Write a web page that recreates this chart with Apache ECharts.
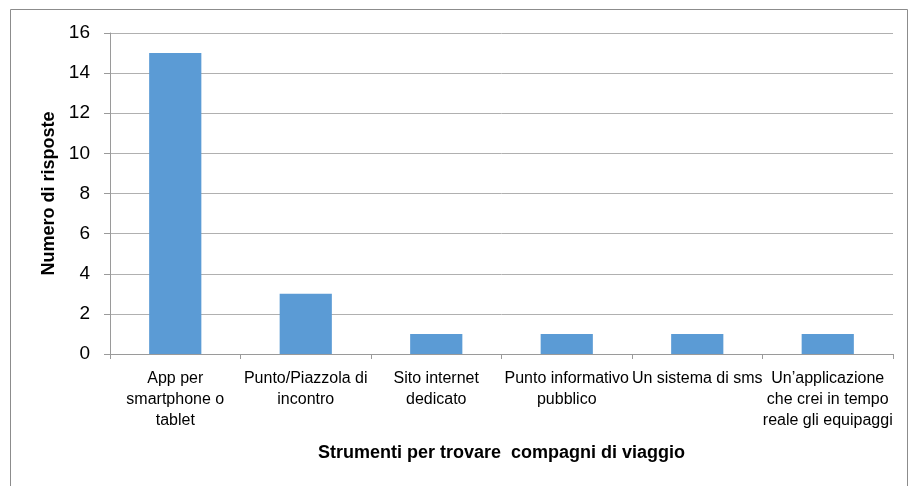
<!DOCTYPE html>
<html>
<head>
<meta charset="utf-8">
<script src="https://cdn.jsdelivr.net/npm/echarts@6/dist/echarts.min.js"></script>
<style>
  html, body { margin: 0; padding: 0; background: #fff; }
  #chart { width: 909px; height: 486px; }
</style>
</head>
<body>
<div id="chart"></div>
<script>
const categories = [
  'App per\nsmartphone o\ntablet',
  'Punto/Piazzola di\nincontro',
  'Sito internet\ndedicato',
  'Punto informativo\npubblico',
  'Un sistema di sms',
  'Un\u2019applicazione\nche crei in tempo\nreale gli equipaggi'
];
const responses = [15, 3, 1, 1, 1, 1];
const yTicks = { min: 0, max: 16, interval: 2 };

const font = '"Liberation Sans Narrow", "Liberation Sans", Arial, sans-serif';
const chart = echarts.init(document.getElementById('chart'));

chart.setOption({
  animation: false,
  graphic: [{
    type: 'rect',
    shape: { x: 10.5, y: 9.5, width: 897, height: 490 },
    style: { fill: 'none', stroke: '#8c8c8c', lineWidth: 1 },
    silent: true
  }],
  grid: { left: 110, right: 16, top: 33, bottom: 132 },
  xAxis: {
    type: 'category',
    data: categories,
    name: 'Strumenti per trovare  compagni di viaggio',
    nameLocation: 'middle',
    nameGap: 90,
    nameTextStyle: { fontFamily: font, fontSize: 18, fontWeight: 'bold', color: '#000' },
    axisLine: { lineStyle: { color: '#9a9a9a' } },
    axisTick: { show: true, length: 5, lineStyle: { color: '#9a9a9a' } },
    axisLabel: {
      interval: 0,
      margin: 14,
      fontFamily: font,
      fontSize: 16,
      lineHeight: 21,
      color: '#000'
    }
  },
  yAxis: {
    type: 'value',
    min: yTicks.min,
    max: yTicks.max,
    interval: yTicks.interval,
    name: 'Numero di risposte',
    nameLocation: 'middle',
    nameGap: 52,
    nameTextStyle: { fontFamily: font, fontSize: 18, fontWeight: 'bold', color: '#000' },
    axisLine: { show: true, lineStyle: { color: '#9a9a9a' } },
    axisTick: { show: true, length: 6, lineStyle: { color: '#9a9a9a' } },
    axisLabel: { fontFamily: font, fontSize: 19, color: '#000', margin: 20 },
    splitLine: { lineStyle: { color: '#b0b0b0', width: 1 } }
  },
  series: [{
    type: 'bar',
    data: responses,
    barWidth: '40%',
    itemStyle: { color: '#5b9bd5' }
  }]
});
</script>
</body>
</html>
